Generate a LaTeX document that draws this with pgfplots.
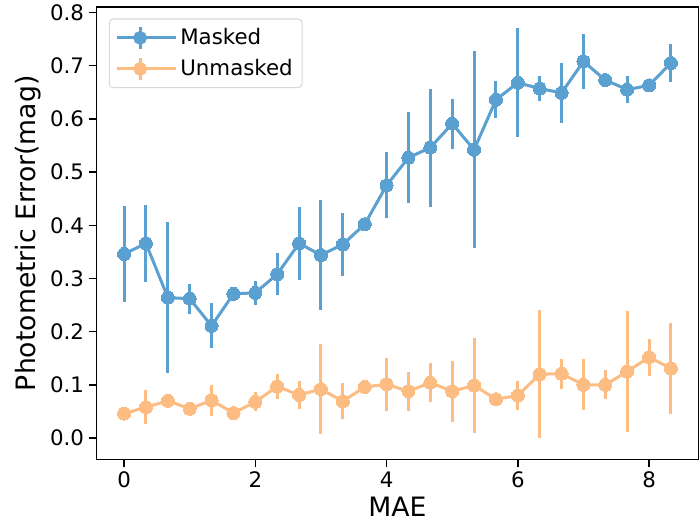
\documentclass[border=0pt]{standalone}
\usepackage{fontspec}
\setmainfont{DejaVu Sans}
\usepackage{pgfplots}
\pgfplotsset{compat=1.18}
\usepackage{pgfplotstable}

\definecolor{maskblue}{RGB}{90,160,208}
\definecolor{unmaskorange}{RGB}{253,188,130}

% x  mean  error (half width)
\pgfplotstableread{
x      y      e
0      0.346  0.091
0.333  0.366  0.072
0.667  0.264  0.142
1      0.262  0.028
1.333  0.211  0.042
1.667  0.271  0.004
2      0.273  0.023
2.333  0.308  0.040
2.667  0.366  0.068
3      0.344  0.104
3.333  0.364  0.060
3.667  0.402  0.004
4      0.475  0.062
4.333  0.527  0.086
4.667  0.546  0.111
5      0.591  0.047
5.333  0.542  0.185
5.667  0.636  0.035
6      0.668  0.102
6.333  0.657  0.024
6.667  0.649  0.056
7      0.708  0.052
7.333  0.673  0.004
7.667  0.655  0.025
8      0.663  0.004
8.333  0.705  0.035
}\masked

\pgfplotstableread{
x      y      e
0      0.046  0.004
0.333  0.058  0.032
0.667  0.070  0.006
1      0.055  0.008
1.333  0.071  0.029
1.667  0.047  0.004
2      0.068  0.018
2.333  0.097  0.023
2.667  0.081  0.027
3      0.092  0.084
3.333  0.069  0.034
3.667  0.096  0.004
4      0.101  0.050
4.333  0.088  0.037
4.667  0.104  0.037
5      0.088  0.057
5.333  0.099  0.089
5.667  0.073  0.004
6      0.080  0.027
6.333  0.120  0.120
6.667  0.121  0.028
7      0.100  0.048
7.333  0.100  0.027
7.667  0.125  0.113
8      0.152  0.035
8.333  0.131  0.086
}\unmasked

\begin{document}
\begin{tikzpicture}
\begin{axis}[
  scale only axis,
  width=451pt, height=339pt,
  xmin=-0.4167, xmax=8.75,
  ymin=-0.04, ymax=0.81,
  xtick={0,2,4,6,8},
  ytick={0,0.1,0.2,0.3,0.4,0.5,0.6,0.7,0.8},
  yticklabel style={/pgf/number format/.cd, fixed, fixed zerofill, precision=1},
  /pgf/number format/assume math mode=true,
  tick align=outside, tick pos=left,
  major tick length=6pt,
  every tick/.style={black, line width=1.1pt},
  axis line style={line width=1.1pt},
  ticklabel style={font=\fontsize{16}{18}\selectfont},
  label style={font=\fontsize{20}{22}\selectfont},
  xlabel={MAE},
  ylabel={Photometric Error(mag)},
  legend cell align=left,
  legend style={at={(axis description cs:0.02,0.975)}, anchor=north west,
    draw=black!15, rounded corners=3pt, line width=0.8pt,
    font=\fontsize{16}{18}\selectfont, row sep=5pt, inner sep=5pt,
    /tikz/every even column/.append style={column sep=6pt}},
  legend image code/.code={
    \draw[#1, line width=2.25pt] (0pt,0pt) -- (34pt,0pt);
    \draw[#1, line width=2.25pt] (17pt,-8pt) -- (17pt,8pt);
    \fill[#1] (17pt,0pt) circle (4pt);
    \path (0pt,0pt) -- (44pt,0pt);
  },
]
\addplot[maskblue, line width=2.25pt, mark=*, mark size=4.9pt,
  mark options={solid, fill=maskblue, draw=maskblue, line width=0pt},
  error bars/.cd, y dir=both, y explicit, error mark=none,
  error bar style={line width=2.25pt, maskblue}]
  table[x=x, y=y, y error=e] {\masked};
\addlegendentry{Masked}
\addplot[unmaskorange, line width=2.25pt, mark=*, mark size=4.9pt,
  mark options={solid, fill=unmaskorange, draw=unmaskorange, line width=0pt},
  error bars/.cd, y dir=both, y explicit, error mark=none,
  error bar style={line width=2.25pt, unmaskorange}]
  table[x=x, y=y, y error=e] {\unmasked};
\addlegendentry{Unmasked}
\end{axis}
\path ([xshift=-8pt]current bounding box.west);
\path ([yshift=-3pt]current bounding box.south);
\end{tikzpicture}
\end{document}
